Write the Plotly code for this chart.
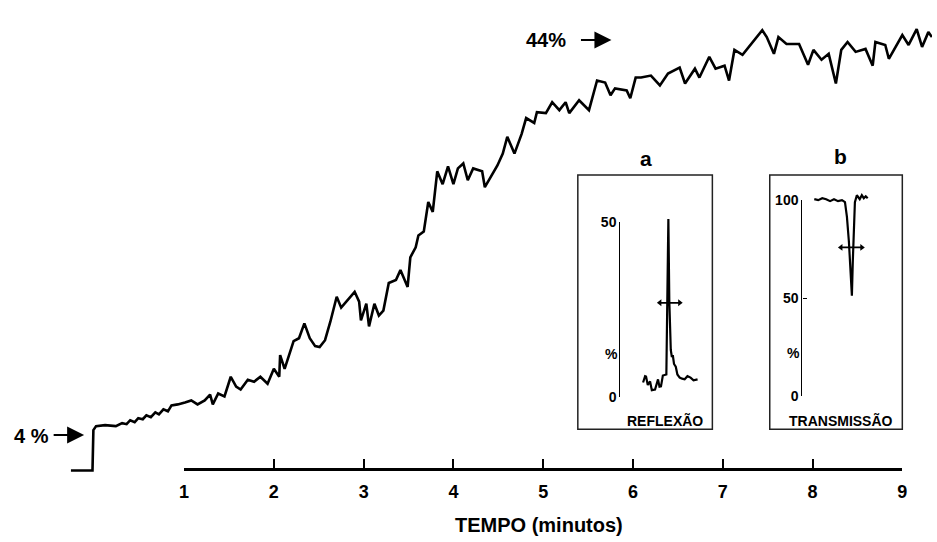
import plotly.graph_objects as go

W, H = 937, 542
FONT = "Liberation Sans, Arial, sans-serif"

# ---------------- main curve: time (min) vs %
main_t = [-0.26, -0.02, -0.01, 0.02, 0.12, 0.24, 0.31, 0.36, 0.40, 0.45, 0.49, 0.54, 0.58, 0.63,
          0.68, 0.72, 0.77, 0.82, 0.86, 0.93,
          1.01, 1.08, 1.15, 1.23, 1.29, 1.32, 1.38, 1.45, 1.52, 1.58, 1.63, 1.71, 1.78, 1.85, 1.93,
          2.00, 2.06, 2.07, 2.12, 2.22, 2.28, 2.34, 2.40, 2.46, 2.51, 2.57, 2.63, 2.70, 2.75, 2.82,
          2.90, 2.95, 2.97, 3.03, 3.06, 3.12, 3.17, 3.22, 3.28, 3.36, 3.41, 3.49, 3.52, 3.58, 3.61,
          3.67, 3.72, 3.77, 3.82, 3.88, 3.94, 4.00, 4.05, 4.11, 4.16, 4.22, 4.32, 4.35, 4.41, 4.49,
          4.55, 4.60, 4.68, 4.76, 4.81, 4.90, 4.93, 5.03, 5.10, 5.18, 5.25, 5.29, 5.40, 5.51, 5.60,
          5.69, 5.75, 5.80, 5.93, 5.97, 6.03, 6.09, 6.20, 6.30, 6.39, 6.52, 6.58, 6.69, 6.74, 6.85,
          6.92, 7.02, 7.07, 7.13, 7.22, 7.35, 7.44, 7.49, 7.57, 7.62, 7.71, 7.85, 7.95, 8.01, 8.10,
          8.18, 8.26, 8.32, 8.39, 8.48, 8.59, 8.67, 8.70, 8.81, 8.85, 9.00, 9.07, 9.16, 9.22, 9.29,
          9.33]
main_v = [0.4, 0.4, 4.5, 4.9, 5.0, 4.9, 5.2, 5.1, 5.5, 5.3, 5.7, 5.6, 6.0, 5.8,
          6.3, 6.1, 6.6, 6.4, 7.0, 7.1,
          7.3, 7.5, 7.1, 7.5, 8.1, 7.1, 8.2, 7.9, 9.9, 8.9, 8.6, 9.6, 9.4, 9.9, 9.2,
          10.7, 9.9, 12.1, 10.7, 13.5, 13.8, 15.3, 13.8, 13.0, 12.9, 13.6, 15.5, 18.0, 16.9, 17.6,
          18.5, 17.5, 15.6, 17.3, 15.0, 17.3, 16.1, 16.6, 19.4, 19.7, 20.7, 19.0, 22.0, 23.0, 24.2,
          24.6, 27.6, 26.6, 30.7, 29.4, 31.2, 29.4, 31.0, 31.5, 29.8, 31.0, 30.7, 29.1, 30.0, 31.3,
          32.5, 34.2, 32.5, 34.5, 36.1, 35.6, 36.7, 36.6, 37.7, 36.9, 37.7, 36.6, 37.9, 36.9, 39.9,
          39.7, 38.4, 39.1, 38.9, 38.1, 40.2, 40.2, 40.4, 39.4, 40.6, 41.2, 39.6, 41.1, 40.2, 42.3,
          41.1, 41.4, 39.9, 43.0, 42.5, 44.0, 45.0, 44.3, 42.6, 44.3, 43.6, 43.6, 41.5, 43.0, 42.0,
          42.6, 39.6, 43.0, 43.8, 42.8, 43.1, 41.4, 43.8, 43.5, 42.1, 44.5, 43.5, 45.1, 43.3, 44.8,
          44.3]
time_ticks = [1, 2, 3, 4, 5, 6, 7, 8, 9]

# ---------------- inset a: reflection (arbitrary position units 0-100, %)
refl_x = [48.5, 50.0, 50.7, 52.0, 53.7, 55.0, 57.4, 58.5, 59.6, 60.7, 61.8, 63.2, 64.7, 65.8,
          66.5, 67.3, 68.0, 69.1, 69.9, 70.6, 71.5, 72.8, 74.0, 75.7, 77.5, 79.4, 81.5, 83.8,
          86.0, 89.0]
refl_v = [4.2, 6.0, 5.9, 3.5, 4.5, 2.0, 2.2, 4.0, 5.1, 3.0, 3.1, 6.2, 6.5, 6.5,
          27.5, 51.0, 27.5, 13.5, 11.5, 12.0, 9.5, 8.7, 6.5, 5.6, 5.3, 5.1, 6.0, 5.6,
          4.8, 5.1]
refl_fwhm_x = [61.0, 75.7]
refl_fwhm_v = [27.0, 27.0]
refl_ticks = [0, 50]

# ---------------- inset b: transmission
trans_x = [34.1, 37.1, 40.2, 43.2, 46.2, 49.2, 52.3, 55.3, 57.6, 59.1, 60.6, 62.1, 62.9, 63.6,
           64.4, 65.2, 66.7, 68.9, 70.5, 72.0, 73.5, 75.0]
trans_v = [100.5, 100.0, 101.0, 100.5, 99.5, 100.5, 99.5, 100.0, 99.0, 91.5, 78.9, 58.8, 51.3, 68.8,
           91.5, 99.0, 102.5, 100.5, 102.5, 101.0, 102.0, 101.0]
trans_fwhm_x = [54.5, 70.5]
trans_fwhm_v = [75.9, 75.9]
trans_ticks = [0, 50, 100]


def px(x):
    return x / W


def py(y):
    return 1 - y / H


fig = go.Figure()

fig.add_trace(go.Scatter(x=main_t, y=main_v, mode="lines", xaxis="x", yaxis="y",
                         line=dict(color="black", width=2.6), showlegend=False, hoverinfo="skip"))
# dummy to render time axis
fig.add_trace(go.Scatter(x=[time_ticks[0]], y=[None], xaxis="x2", yaxis="y",
                         mode="lines", showlegend=False, hoverinfo="skip"))

# inset a
fig.add_trace(go.Scatter(x=[50], y=[None], xaxis="x3", yaxis="y3", mode="lines",
                         showlegend=False, hoverinfo="skip"))
fig.add_trace(go.Scatter(x=refl_x, y=refl_v, xaxis="x3", yaxis="y4", mode="lines",
                         line=dict(color="black", width=2.2), showlegend=False, hoverinfo="skip"))
fig.add_trace(go.Scatter(x=refl_fwhm_x, y=refl_fwhm_v, xaxis="x3", yaxis="y4", mode="lines+markers",
                         line=dict(color="black", width=1.6),
                         marker=dict(symbol=["triangle-left", "triangle-right"], size=6, color="black"),
                         showlegend=False, hoverinfo="skip"))
# inset b
fig.add_trace(go.Scatter(x=[50], y=[None], xaxis="x4", yaxis="y5", mode="lines",
                         showlegend=False, hoverinfo="skip"))
fig.add_trace(go.Scatter(x=trans_x, y=trans_v, xaxis="x4", yaxis="y6", mode="lines",
                         line=dict(color="black", width=2.2), showlegend=False, hoverinfo="skip"))
fig.add_trace(go.Scatter(x=trans_fwhm_x, y=trans_fwhm_v, xaxis="x4", yaxis="y6", mode="lines+markers",
                         line=dict(color="black", width=1.6),
                         marker=dict(symbol=["triangle-left", "triangle-right"], size=6, color="black"),
                         showlegend=False, hoverinfo="skip"))

t_per_px = 1 / 90.75
v_per_px = 1 / 10.175
hidden = dict(visible=False, showgrid=False, zeroline=False)

inset_tick = dict(visible=True, showline=True, linewidth=1.3, linecolor="black", ticks="inside", ticklen=4,
                  tickwidth=1.3, tickcolor="black", showgrid=False, zeroline=False,
                  tickfont=dict(family=FONT, size=14, color="black", weight="bold"))

BOX_TOP, BOX_BOT = 172, 434

fig.update_layout(
    width=W, height=H, margin=dict(l=0, r=0, t=0, b=0),
    paper_bgcolor="white", plot_bgcolor="rgba(0,0,0,0)",
    xaxis=dict(domain=[0, 1], range=[-90.25 * t_per_px, (W - 90.25) * t_per_px], **hidden),
    yaxis=dict(domain=[0, 1], range=[-(H - 480.7) * v_per_px, 480.7 * v_per_px], **hidden),
    xaxis2=dict(domain=[px(181), px(907)], range=[1, 9], anchor="free", position=py(475),
                showline=True, linewidth=2.5, linecolor="black", ticks="inside", ticklen=9,
                tickwidth=2, tickcolor="black", tickvals=time_ticks, showgrid=False, zeroline=False,
                ticklabelstandoff=6,
                tickfont=dict(family=FONT, size=18, color="black", weight="bold")),
    xaxis3=dict(domain=[px(579), px(715)], range=[0, 100], anchor="y4", **hidden),
    yaxis3=dict(domain=[py(401), py(221)], range=[0, 50], anchor="free", position=px(621),
                tickvals=refl_ticks, **inset_tick),
    yaxis4=dict(domain=[py(BOX_BOT), py(BOX_TOP)],
                range=[-(BOX_BOT - 401) / 3.6, (401 - BOX_TOP) / 3.6], anchor="x3", **hidden),
    xaxis4=dict(domain=[px(773), px(905)], range=[0, 100], anchor="y6", **hidden),
    yaxis5=dict(domain=[py(400), py(198)], range=[0, 100], anchor="free", position=px(805),
                tickvals=trans_ticks, **inset_tick),
    yaxis6=dict(domain=[py(BOX_BOT), py(BOX_TOP)],
                range=[-(BOX_BOT - 400) / 2.02, (400 - BOX_TOP) / 2.02], anchor="x4", **hidden),
)

# inset boxes
for x0, x1 in [(579, 715), (773, 907)]:
    fig.add_shape(type="rect", xref="paper", yref="paper", x0=px(x0), x1=px(x1),
                  y0=py(BOX_BOT), y1=py(BOX_TOP), line=dict(color="#222", width=1.5), layer="above")


def text(x, y, s, size, xanchor="center", bold=True):
    fig.add_annotation(xref="paper", yref="paper", x=px(x), y=py(y), text=s, showarrow=False,
                       xanchor=xanchor, yanchor="middle",
                       font=dict(family=FONT, size=size, color="black",
                                 weight="bold" if bold else "normal"))


text(540, 533, "TEMPO (minutos)", 20)
text(46, 441, "4 %", 20, xanchor="right")
text(569, 33, "44%", 20, xanchor="right")
text(648, 155, "a", 21)
text(845, 153, "b", 21)
text(667, 425, "REFLEXÃO", 14)
text(845, 425, "TRANSMISSÃO", 14)
text(613, 357, "%", 14)
text(797, 356, "%", 14)

# level arrows (4 % and 44 %)
for v_level, x_head, x_tail in [(4, 80, 48), (44, 613, 581)]:
    fig.add_annotation(xref="x", yref="y", x=(x_head - 90.25) * t_per_px, y=v_level,
                       ax=x_tail - x_head, ay=0, text="", showarrow=True,
                       arrowhead=2, arrowsize=1.7, arrowwidth=2, arrowcolor="black")

fig.write_html("out.html")
